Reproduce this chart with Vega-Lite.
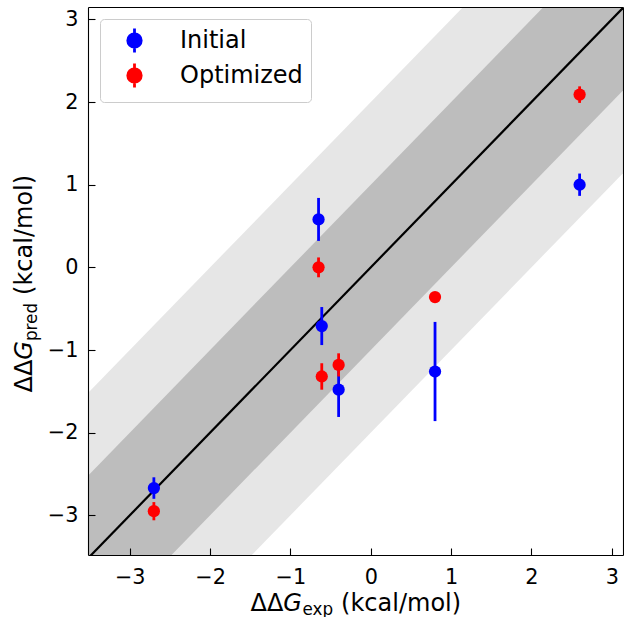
{
  "$schema": "https://vega.github.io/schema/vega-lite/v6.json",
  "width": 535,
  "height": 548,
  "autosize": {"type": "none"},
  "padding": {"left": 88, "top": 7, "right": 1, "bottom": 62},
  "background": "white",
  "config": {
    "view": {"stroke": null},
    "font": "DejaVu Sans",
    "axis": {"grid": false, "labelFont": "DejaVu Sans", "titleFont": "DejaVu Sans", "labelColor": "black", "titleColor": "black", "titleFontWeight": "normal", "titleFontSize": 24, "labelFontSize": 20.8},
    "legend": {"orient": "top-left", "offset": 12, "labelFontSize": 24, "labelFont": "DejaVu Sans", "labelColor": "black",
      "symbolType": "M0,-1L0,1M-0.56,0A0.56,0.56,0,1,1,0.56,0A0.56,0.56,0,1,1,-0.56,0Z",
      "symbolSize": 576, "symbolStrokeWidth": 2.8, "symbolOpacity": 1,
      "fillColor": "white", "strokeColor": "#cccccc", "cornerRadius": 4, "padding": 8, "rowPadding": -2, "symbolOffset": 13, "labelOffset": 32}
  },
  "datasets": {
    "bands": [
      {"bx": -6, "lo2": -8, "hi2": -4, "lo1": -7, "hi1": -5},
      {"bx": 6, "lo2": 4, "hi2": 8, "lo1": 5, "hi1": 7}
    ],
    "diag": [{"d": -6}, {"d": 6}],
    "pts": [
      {"series": "Initial", "x": -2.7, "y": -2.67, "lo": -2.8, "hi": -2.54},
      {"series": "Initial", "x": -0.65, "y": 0.58, "lo": 0.32, "hi": 0.84},
      {"series": "Initial", "x": -0.61, "y": -0.71, "lo": -0.94, "hi": -0.48},
      {"series": "Initial", "x": -0.4, "y": -1.48, "lo": -1.81, "hi": -1.15},
      {"series": "Initial", "x": 0.8, "y": -1.26, "lo": -1.86, "hi": -0.66},
      {"series": "Initial", "x": 2.6, "y": 1.0, "lo": 0.865, "hi": 1.135},
      {"series": "Optimized", "x": -2.7, "y": -2.95, "lo": -3.06, "hi": -2.84},
      {"series": "Optimized", "x": -0.65, "y": 0.0, "lo": -0.12, "hi": 0.12},
      {"series": "Optimized", "x": -0.61, "y": -1.32, "lo": -1.48, "hi": -1.16},
      {"series": "Optimized", "x": -0.4, "y": -1.18, "lo": -1.32, "hi": -1.04},
      {"series": "Optimized", "x": 0.8, "y": -0.36, "lo": -0.4, "hi": -0.32},
      {"series": "Optimized", "x": 2.6, "y": 2.09, "lo": 1.99, "hi": 2.19}
    ]
  },
  "resolve": {"axis": {"x": "independent", "y": "independent"}},
  "layer": [
    {
      "data": {"name": "bands"},
      "mark": {"type": "area", "color": "#e6e6e6", "opacity": 1, "clip": true},
      "encoding": {
        "x": {"field": "bx", "type": "quantitative", "scale": {"domain": [-3.52, 3.14], "nice": false, "zero": false},
          "axis": {"orient": "bottom", "values": [-3, -2, -1, 0, 1, 2, 3], "format": "d", "tickSize": -7, "tickWidth": 1.1, "tickColor": "black", "domainColor": "black", "domainWidth": 1.1, "labelPadding": 19, "labelFlush": false, "labelOverlap": false, "title": "ΔΔ", "titleX": 162, "titleY": 55, "titleAlign": "left", "titleBaseline": "alphabetic", "titleAngle": 0, "zindex": 1}},
        "y": {"field": "lo2", "type": "quantitative", "scale": {"domain": [-3.48, 3.15], "nice": false, "zero": false},
          "axis": {"orient": "left", "values": [-3, -2, -1, 0, 1, 2, 3], "format": "d", "tickSize": -7, "tickWidth": 1.1, "tickColor": "black", "domainColor": "black", "domainWidth": 1.1, "labelPadding": 17, "labelFlush": false, "labelOverlap": false, "title": "ΔΔ", "titleX": -57, "titleY": 385, "titleAlign": "left", "titleBaseline": "alphabetic", "titleAngle": -90, "zindex": 1}},
        "y2": {"field": "hi2"}
      }
    },
    {
      "data": {"name": "bands"},
      "mark": {"type": "area", "color": "#bdbdbd", "opacity": 1, "clip": true},
      "encoding": {
        "x": {"field": "bx", "type": "quantitative", "scale": {"domain": [-3.52, 3.14], "nice": false, "zero": false},
          "axis": {"orient": "bottom", "labels": false, "ticks": false, "domain": false, "title": "G", "titleFontStyle": "italic", "titleX": 194.8, "titleY": 55, "titleAlign": "left", "titleBaseline": "alphabetic", "titleAngle": 0}},
        "y": {"field": "lo1", "type": "quantitative", "scale": {"domain": [-3.48, 3.15], "nice": false, "zero": false},
          "axis": {"orient": "left", "labels": false, "ticks": false, "domain": false, "title": "G", "titleFontStyle": "italic", "titleX": -57, "titleY": 352.2, "titleAlign": "left", "titleBaseline": "alphabetic", "titleAngle": -90}},
        "y2": {"field": "hi1"}
      }
    },
    {
      "data": {"name": "diag"},
      "mark": {"type": "line", "color": "black", "strokeWidth": 2.2, "clip": true},
      "encoding": {
        "x": {"field": "d", "type": "quantitative", "scale": {"domain": [-3.52, 3.14], "nice": false, "zero": false},
          "axis": {"orient": "bottom", "labels": false, "ticks": false, "domain": false, "title": "exp", "titleFontSize": 16.8, "titleX": 214, "titleY": 59, "titleAlign": "left", "titleBaseline": "alphabetic", "titleAngle": 0}},
        "y": {"field": "d", "type": "quantitative", "scale": {"domain": [-3.48, 3.15], "nice": false, "zero": false},
          "axis": {"orient": "left", "labels": false, "ticks": false, "domain": false, "title": "pred", "titleFontSize": 16.8, "titleX": -52, "titleY": 333.6, "titleAlign": "left", "titleBaseline": "alphabetic", "titleAngle": -90}}
      }
    },
    {
      "data": {"name": "pts"},
      "mark": {"type": "rule", "strokeWidth": 2.8},
      "encoding": {
        "x": {"field": "x", "type": "quantitative", "scale": {"domain": [-3.52, 3.14], "nice": false, "zero": false},
          "axis": {"orient": "bottom", "labels": false, "ticks": false, "domain": false, "title": "(kcal/mol)", "titleX": 252.6, "titleY": 55, "titleAlign": "left", "titleBaseline": "alphabetic", "titleAngle": 0}},
        "y": {"field": "lo", "type": "quantitative", "scale": {"domain": [-3.48, 3.15], "nice": false, "zero": false},
          "axis": {"orient": "left", "labels": false, "ticks": false, "domain": false, "title": "(kcal/mol)", "titleX": -57, "titleY": 287.4, "titleAlign": "left", "titleBaseline": "alphabetic", "titleAngle": -90}},
        "y2": {"field": "hi"},
        "color": {"field": "series", "type": "nominal", "scale": {"domain": ["Initial", "Optimized"], "range": ["#0000ff", "#ff0000"]}, "legend": {"title": null}}
      }
    },
    {
      "data": {"name": "pts"},
      "mark": {"type": "circle", "size": 150, "opacity": 1},
      "encoding": {
        "x": {"field": "x", "type": "quantitative", "scale": {"domain": [-3.52, 3.14], "nice": false, "zero": false},
          "axis": {"orient": "top", "labels": false, "ticks": false, "domain": true, "domainColor": "black", "domainWidth": 1.1, "title": null, "zindex": 1}},
        "y": {"field": "y", "type": "quantitative", "scale": {"domain": [-3.48, 3.15], "nice": false, "zero": false},
          "axis": {"orient": "right", "labels": false, "ticks": false, "domain": true, "domainColor": "black", "domainWidth": 1.1, "title": null, "zindex": 1}},
        "color": {"field": "series", "type": "nominal", "scale": {"domain": ["Initial", "Optimized"], "range": ["#0000ff", "#ff0000"]},
          "legend": {"title": null, "encode": {"symbols": {"update": {"stroke": {"scale": "color", "field": "value"}, "fill": {"scale": "color", "field": "value"}, "strokeWidth": {"value": 2.8}}}}}}
      }
    }
  ]
}
